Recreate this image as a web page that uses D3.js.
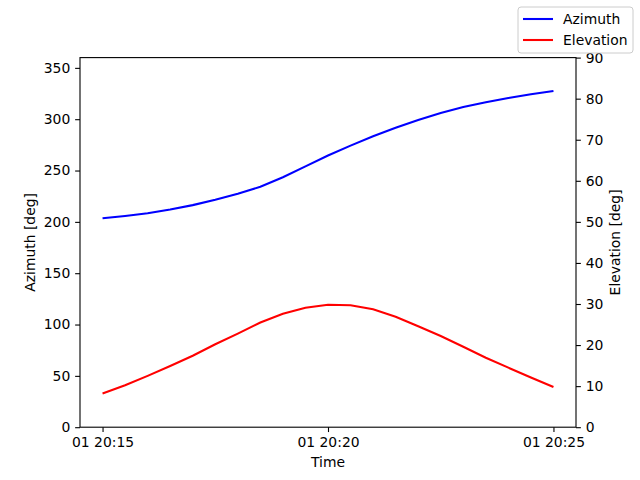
<!DOCTYPE html>
<html>
<head>
<meta charset="utf-8">
<script src="https://cdn.jsdelivr.net/npm/d3@7"></script>
<style>
  body { margin: 0; background: #fff; }
  text { font-family: "DejaVu Sans", sans-serif; }
</style>
</head>
<body>
<div id="chart"></div>
<script>
// Sample times (every 30 s from 20:15 to 20:25)
var times = ["20:15:00", "20:15:30", "20:16:00", "20:16:30", "20:17:00", "20:17:30", "20:18:00",
  "20:18:30", "20:19:00", "20:19:30", "20:20:00", "20:20:30", "20:21:00", "20:21:30", "20:22:00",
  "20:22:30", "20:23:00", "20:23:30", "20:24:00", "20:24:30", "20:25:00"];

// Azimuth [deg]
var azimuth = [203.5, 205.7, 208.3, 212.0, 216.3, 221.5, 227.3, 234.2, 243.5, 254.0, 264.6,
  274.3, 283.4, 291.6, 299.3, 306.0, 311.8, 316.6, 320.7, 324.3, 327.5];

// Elevation [deg]
var elevation = [8.2, 10.2, 12.5, 14.9, 17.4, 20.2, 22.8, 25.5, 27.6, 29.1, 29.8,
  29.7, 28.7, 26.9, 24.6, 22.2, 19.6, 16.9, 14.5, 12.1, 9.8];

var azTicks = [0, 50, 100, 150, 200, 250, 300, 350];
var elTicks = [0, 10, 20, 30, 40, 50, 60, 70, 80, 90];
var timeTicks = ["20:15:00", "20:20:00", "20:25:00"];

var parseTime = function(s) { return new Date(2000, 0, 1, +s.slice(0, 2), +s.slice(3, 5), +s.slice(6, 8)); };
var dates = times.map(parseTime);

// Layout like a default matplotlib figure
var W = 640, H = 480;
var margin = { top: 57.6, right: 64, bottom: 52.8, left: 80 };
var width = W - margin.left - margin.right;
var height = H - margin.top - margin.bottom;

var svg = d3.select("#chart").append("svg")
  .attr("width", W)
  .attr("height", H);

var g = svg.append("g")
  .attr("transform", "translate(" + margin.left + "," + margin.top + ")");

// 5% margins on the time axis
var t0 = dates[0], t1 = dates[dates.length - 1];
var pad = (t1 - t0) * 0.05;
var x = d3.scaleTime()
  .domain([new Date(+t0 - pad), new Date(+t1 + pad)])
  .range([0, width]);

var yAz = d3.scaleLinear().domain([0, 360]).range([height, 0]);
var yEl = d3.scaleLinear().domain([0, 90]).range([height, 0]);

var fontSize = "13.9px";
var tickLen = 4.86;

function styleAxis(sel) {
  sel.select(".domain").remove();
  sel.selectAll("line").attr("stroke", "#000").attr("stroke-width", 1.1);
  sel.selectAll("text")
    .style("font-family", "DejaVu Sans")
    .style("font-size", fontSize)
    .attr("fill", "#000");
}

// Lines
var azLine = d3.line()
  .x(function(d, i) { return x(dates[i]); })
  .y(function(d) { return yAz(d); });
var elLine = d3.line()
  .x(function(d, i) { return x(dates[i]); })
  .y(function(d) { return yEl(d); });

g.append("path")
  .datum(azimuth)
  .attr("d", azLine)
  .attr("fill", "none")
  .attr("stroke", "blue")
  .attr("stroke-width", 2.08);

g.append("path")
  .datum(elevation)
  .attr("d", elLine)
  .attr("fill", "none")
  .attr("stroke", "red")
  .attr("stroke-width", 2.08);

// Axes
g.append("g")
  .attr("transform", "translate(0," + height + ")")
  .call(d3.axisBottom(x)
    .tickValues(timeTicks.map(parseTime))
    .tickFormat(d3.timeFormat("%d %H:%M"))
    .tickSize(tickLen).tickPadding(4.86))
  .call(styleAxis);

g.append("g")
  .call(d3.axisLeft(yAz).tickValues(azTicks).tickSize(tickLen).tickPadding(4.86))
  .call(styleAxis);

g.append("g")
  .attr("transform", "translate(" + width + ",0)")
  .call(d3.axisRight(yEl).tickValues(elTicks).tickSize(tickLen).tickPadding(4.86))
  .call(styleAxis);

// Frame
g.append("rect")
  .attr("width", width)
  .attr("height", height)
  .attr("fill", "none")
  .attr("stroke", "#000")
  .attr("stroke-width", 1.1);

// Axis labels
g.append("text")
  .attr("x", width / 2)
  .attr("y", height + 40)
  .attr("text-anchor", "middle")
  .style("font-size", fontSize)
  .text("Time");

g.append("text")
  .attr("transform", "translate(" + (-45) + "," + (height / 2) + ") rotate(-90)")
  .attr("text-anchor", "middle")
  .style("font-size", fontSize)
  .text("Azimuth [deg]");

g.append("text")
  .attr("transform", "translate(" + (width + 44) + "," + (height / 2) + ") rotate(-90)")
  .attr("text-anchor", "middle")
  .style("font-size", fontSize)
  .text("Elevation [deg]");

// Figure legend (upper right)
var legend = svg.append("g").attr("transform", "translate(518,7)");
legend.append("rect")
  .attr("width", 115)
  .attr("height", 46)
  .attr("rx", 3)
  .attr("fill", "#fff")
  .attr("fill-opacity", 0.8)
  .attr("stroke", "#ccc")
  .attr("stroke-width", 1);

var legendItems = [{ name: "Azimuth", color: "blue" }, { name: "Elevation", color: "red" }];
legendItems.forEach(function(d, i) {
  var cy = 12 + i * 21;
  legend.append("line")
    .attr("x1", 5).attr("x2", 35)
    .attr("y1", cy).attr("y2", cy)
    .attr("stroke", d.color)
    .attr("stroke-width", 2.08);
  legend.append("text")
    .attr("x", 45)
    .attr("y", cy)
    .attr("dy", "0.35em")
    .style("font-size", fontSize)
    .text(d.name);
});
</script>
</body>
</html>
